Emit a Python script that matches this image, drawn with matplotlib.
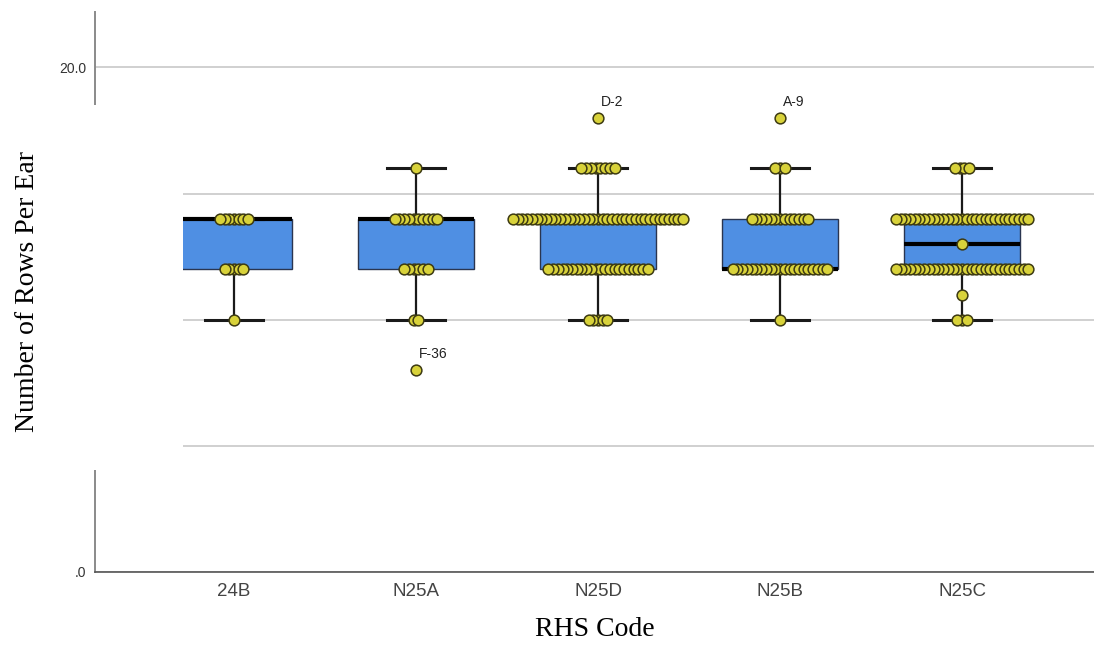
import numpy as np
import matplotlib
matplotlib.use("Agg")
import matplotlib.pyplot as plt
from matplotlib.patches import Rectangle

# RHS codes and how many ears had each row count
categories = ["24B", "N25A", "N25D", "N25B", "N25C"]
rows_24B = [10, 12, 14]
count_24B = [1, 5, 7]
rows_N25A = [8, 10, 12, 14, 16]
count_N25A = [1, 2, 6, 10, 1]
rows_N25D = [10, 12, 14, 16, 18]
count_N25D = [5, 22, 37, 8, 1]
rows_N25B = [10, 12, 14, 16, 18]
count_N25B = [1, 21, 13, 3, 1]
rows_N25C = [10, 11, 12, 13, 14, 16]
count_N25C = [3, 1, 29, 1, 29, 4]

# labelled outliers: category, value, label
outlier_cats = ["N25A", "N25D", "N25B"]
outlier_vals = [8, 18, 18]
outlier_text = ["F-36", "D-2", "A-9"]

rows_all = [rows_24B, rows_N25A, rows_N25D, rows_N25B, rows_N25C]
counts_all = [count_24B, count_N25A, count_N25D, count_N25B, count_N25C]
data = [np.repeat(r, c) for r, c in zip(rows_all, counts_all)]

BOX_W = 0.64
DOT_STEP = 0.026

fig = plt.figure(figsize=(10.94, 6.48), dpi=100)
ax = fig.add_axes([0.0868, 0.1173, 0.9132, 0.8642])

pos = np.arange(len(categories))
ax.boxplot(data, positions=pos, widths=BOX_W, whis=1.5, showfliers=False,
           patch_artist=True,
           boxprops=dict(facecolor="#4f8fe3", edgecolor="#2a3550", linewidth=1.0),
           medianprops=dict(color="black", linewidth=3),
           whiskerprops=dict(color="#1a1a1a", linewidth=1.6),
           capprops=dict(color="#1a1a1a", linewidth=2.2),
           zorder=2)

# dot plot: dots drawn from centre outwards so the outer ones sit on top
for i, (r, c) in enumerate(zip(rows_all, counts_all)):
    xs, ys = [], []
    for val, n in zip(r, c):
        offs = (np.arange(n) - (n - 1) / 2) * DOT_STEP
        offs = offs[np.argsort(np.abs(offs), kind="stable")]
        xs.extend(i + offs)
        ys.extend([val] * n)
    ax.scatter(xs, ys, s=60, color="#d8d23a", edgecolors="#3d3a12",
               linewidths=1.1, zorder=3)

for cat, val, txt in zip(outlier_cats, outlier_vals, outlier_text):
    x = categories.index(cat)
    ax.text(x + 0.015, val + 0.35, txt, fontsize=10, family="Liberation Sans",
            color="#222222", ha="left", va="bottom", zorder=4)

ax.set_xlim(-0.764, 4.725)
ax.set_ylim(0, 22.2)
ax.set_yticks([0, 5, 10, 15, 20])
ax.set_yticklabels([".0", "", "", "", "20.0"], fontsize=10,
                   family="Liberation Sans", color="#333333")
ax.set_xticks(pos)
ax.set_xticklabels(categories, fontsize=13.5, family="Liberation Sans",
                   color="#444444")
ax.tick_params(length=0, pad=8)
ax.tick_params(axis="y", pad=6)
ax.grid(axis="y", color="#c4c4c4", linewidth=1.1, zorder=0)
ax.set_axisbelow(True)

for s in ["top", "right"]:
    ax.spines[s].set_visible(False)
ax.spines["left"].set_color("#8a8a8a")
ax.spines["left"].set_linewidth(1.4)
ax.spines["bottom"].set_color("#555555")
ax.spines["bottom"].set_linewidth(1.2)

# the broken-axis gap SPSS leaves at the left
ax.add_patch(Rectangle((-0.82, 4.05), 0.54, 14.48, facecolor="white",
                       edgecolor="none", clip_on=False, zorder=5))

ax.set_xlabel("RHS Code", fontsize=20, family="Liberation Serif", labelpad=12)
ax.set_ylabel("Number of Rows Per Ear", fontsize=20, family="Liberation Serif",
              labelpad=14)

fig.savefig("out.png", dpi=100)
